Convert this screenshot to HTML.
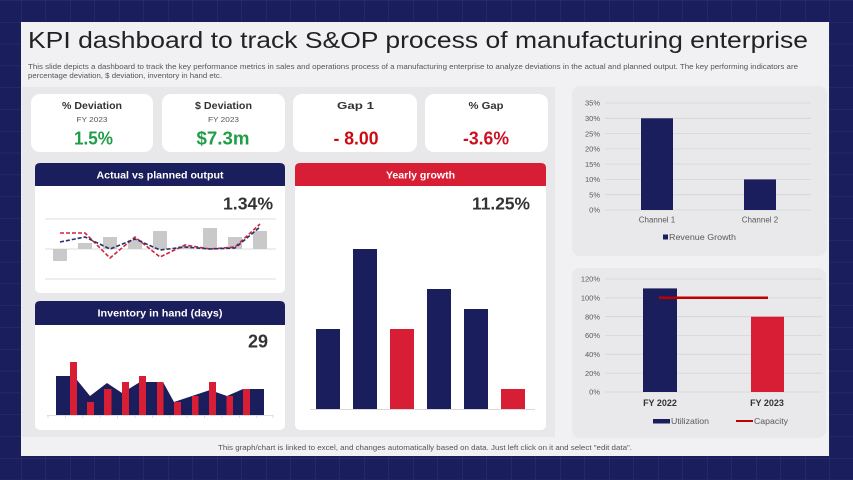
<!DOCTYPE html>
<html><head><meta charset="utf-8">
<style>
html,body{margin:0;padding:0;background:#1b1e5c;}
svg{display:block;font-family:"Liberation Sans",sans-serif;}
</style></head>
<body>
<svg width="853" height="480" viewBox="0 0 853 480" xmlns="http://www.w3.org/2000/svg">
<defs>
<pattern id="grid" x="-3.5" y="0.2" width="24.5" height="21.8" patternUnits="userSpaceOnUse">
<rect width="24.5" height="21.8" fill="#1b1e5c"/>
<path d="M0 0 V21.8 M0 0 H24.5" stroke="#2d3173" stroke-width="1" fill="none"/>
</pattern>
</defs>
<rect width="853" height="480" fill="url(#grid)"/>
<!-- slide -->
<rect x="21" y="22" width="808" height="434" fill="#f1f1f3"/>
<text x="28" y="48" font-size="23" fill="#222" textLength="780" lengthAdjust="spacingAndGlyphs">KPI dashboard to track S&amp;OP process of manufacturing enterprise</text>
<text x="28" y="69" font-size="7.2" fill="#555" textLength="770" lengthAdjust="spacingAndGlyphs">This slide depicts a dashboard to track the key performance metrics in sales and operations process of a manufacturing enterprise to analyze deviations in the actual and planned output. The key performing indicators are</text>
<text x="28" y="78" font-size="7.2" fill="#555" textLength="194" lengthAdjust="spacingAndGlyphs">percentage deviation, $ deviation, inventory in hand etc.</text>

<!-- left big panel -->
<rect x="22" y="87" width="533" height="350" fill="#e8e8ea"/>
<!-- right panels -->
<rect x="572" y="86" width="255" height="170" rx="8" fill="#e9e9eb"/>
<rect x="572" y="268" width="254" height="170" rx="8" fill="#e9e9eb"/>

<!-- KPI cards -->
<rect x="31" y="94" width="122" height="58" rx="9" fill="#fff"/>
<rect x="162" y="94" width="123" height="58" rx="9" fill="#fff"/>
<rect x="293" y="94" width="124" height="58" rx="9" fill="#fff"/>
<rect x="425" y="94" width="123" height="58" rx="9" fill="#fff"/>
<g font-weight="bold" font-size="10.5" fill="#333" text-anchor="middle">
<text x="92" y="109" textLength="60" lengthAdjust="spacingAndGlyphs">% Deviation</text>
<text x="223.5" y="109" textLength="57" lengthAdjust="spacingAndGlyphs">$ Deviation</text>
<text x="355.5" y="109" textLength="37" lengthAdjust="spacingAndGlyphs">Gap 1</text>
<text x="486" y="109" textLength="35" lengthAdjust="spacingAndGlyphs">% Gap</text>
</g>
<g font-size="7.5" fill="#555" text-anchor="middle">
<text x="92" y="122" textLength="31" lengthAdjust="spacingAndGlyphs">FY 2023</text>
<text x="223.5" y="122" textLength="31" lengthAdjust="spacingAndGlyphs">FY 2023</text>
</g>
<g font-weight="bold" font-size="18" text-anchor="middle">
<text x="93.5" y="144.5" fill="#1f9d47" textLength="39" lengthAdjust="spacingAndGlyphs">1.5%</text>
<text x="223" y="144.5" fill="#1f9d47" textLength="53" lengthAdjust="spacingAndGlyphs">$7.3m</text>
<text x="356" y="144.5" fill="#cc0a14" textLength="45" lengthAdjust="spacingAndGlyphs">- 8.00</text>
<text x="486" y="144.5" fill="#cc1020" textLength="46" lengthAdjust="spacingAndGlyphs">-3.6%</text>
</g>

<!-- Actual vs planned panel -->
<rect x="35" y="163" width="250" height="130" rx="5" fill="#fff"/>
<path d="M35 186 V168 Q35 163 40 163 H280 Q285 163 285 168 V186 Z" fill="#1b1e5c"/>
<text x="160" y="178.5" font-size="10.5" font-weight="bold" fill="#fff" text-anchor="middle" textLength="127" lengthAdjust="spacingAndGlyphs">Actual vs planned output</text>
<text x="273" y="209.5" font-size="17.5" font-weight="bold" fill="#333" text-anchor="end" textLength="50" lengthAdjust="spacingAndGlyphs">1.34%</text>
<g stroke="#dcdcdc" stroke-width="1">
<line x1="45" y1="219" x2="276" y2="219"/>
<line x1="45" y1="249" x2="276" y2="249"/>
<line x1="45" y1="279" x2="276" y2="279"/>
</g>
<g fill="#c9c9c9">
<rect x="53" y="249" width="14" height="12"/>
<rect x="78" y="243" width="14" height="6"/>
<rect x="103" y="237" width="14" height="12"/>
<rect x="128" y="240" width="14" height="9"/>
<rect x="153" y="231" width="14" height="18"/>
<rect x="178" y="246" width="14" height="3"/>
<rect x="203" y="228" width="14" height="21"/>
<rect x="228" y="237" width="14" height="12"/>
<rect x="253" y="231" width="14" height="18"/>
</g>
<polyline points="60,233 85,233 110,258 135,237 160,257 185,245 210,249 235,247 260,224" fill="none" stroke="#d0243a" stroke-width="1.6" stroke-dasharray="4,2"/>
<polyline points="60,242 85,237 110,249 135,239 160,250 185,247 210,249 235,248 260,227" fill="none" stroke="#2a2f6e" stroke-width="1.6" stroke-dasharray="4,2"/>

<!-- Inventory panel -->
<rect x="35" y="301" width="250" height="129" rx="5" fill="#fff"/>
<path d="M35 325 V306 Q35 301 40 301 H280 Q285 301 285 306 V325 Z" fill="#1b1e5c"/>
<text x="160" y="316.5" font-size="10.5" font-weight="bold" fill="#fff" text-anchor="middle" textLength="125" lengthAdjust="spacingAndGlyphs">Inventory in hand (days)</text>
<text x="268" y="347.5" font-size="18" font-weight="bold" fill="#333" text-anchor="end">29</text>
<polygon points="56,415 56,376 70,376 77,380 90,396 107,383 122,393 140,382 157,382 163,382 174,402 192,396 210,390 227,396 243,389 264,389 264,415" fill="#1b1e5c"/>
<g fill="#d81e34">
<rect x="70" y="362" width="7" height="53"/>
<rect x="87" y="402" width="7" height="13"/>
<rect x="104" y="389" width="7.5" height="26"/>
<rect x="122" y="382" width="7" height="33"/>
<rect x="139" y="376" width="7" height="39"/>
<rect x="157" y="382" width="6.5" height="33"/>
<rect x="174" y="402" width="7" height="13"/>
<rect x="192" y="396" width="6.5" height="19"/>
<rect x="209" y="382" width="7" height="33"/>
<rect x="226.5" y="396" width="6.5" height="19"/>
<rect x="243" y="389" width="7" height="26"/>
</g>
<g stroke="#d4d4d4" stroke-width="0.8">
<line x1="47" y1="415.5" x2="273" y2="415.5"/>
<path d="M48 415 v3 M65.4 415 v3 M82.8 415 v3 M100.2 415 v3 M117.6 415 v3 M135 415 v3 M152.4 415 v3 M169.8 415 v3 M187.2 415 v3 M204.6 415 v3 M222 415 v3 M239.4 415 v3 M256.8 415 v3 M273 415 v3"/>
</g>

<!-- Yearly growth panel -->
<rect x="295" y="163" width="251" height="267" rx="5" fill="#fff"/>
<path d="M295 186 V168 Q295 163 300 163 H541 Q546 163 546 168 V186 Z" fill="#d81e34"/>
<text x="420.5" y="178.5" font-size="10.5" font-weight="bold" fill="#fff" text-anchor="middle" textLength="69" lengthAdjust="spacingAndGlyphs">Yearly growth</text>
<text x="530" y="209.5" font-size="17.5" font-weight="bold" fill="#333" text-anchor="end" textLength="58" lengthAdjust="spacingAndGlyphs">11.25%</text>
<rect x="316" y="329" width="24" height="80" fill="#1b1e5c"/>
<rect x="353" y="249" width="24" height="160" fill="#1b1e5c"/>
<rect x="390" y="329" width="24" height="80" fill="#d81e34"/>
<rect x="427" y="289" width="24" height="120" fill="#1b1e5c"/>
<rect x="464" y="309" width="24" height="100" fill="#1b1e5c"/>
<rect x="501" y="389" width="24" height="20" fill="#d81e34"/>
<line x1="310" y1="409.5" x2="535" y2="409.5" stroke="#d9d9d9" stroke-width="1"/>

<!-- Top right chart -->
<g stroke="#d6d6d6" stroke-width="0.8">
<line x1="605" y1="103" x2="811" y2="103"/>
<line x1="605" y1="118.3" x2="811" y2="118.3"/>
<line x1="605" y1="133.6" x2="811" y2="133.6"/>
<line x1="605" y1="148.9" x2="811" y2="148.9"/>
<line x1="605" y1="164.1" x2="811" y2="164.1"/>
<line x1="605" y1="179.4" x2="811" y2="179.4"/>
<line x1="605" y1="194.7" x2="811" y2="194.7"/>
<line x1="605" y1="210" x2="811" y2="210"/>
</g>
<g font-size="7.5" fill="#595959" text-anchor="end">
<text x="600" y="105.7">35%</text>
<text x="600" y="121">30%</text>
<text x="600" y="136.3">25%</text>
<text x="600" y="151.6">20%</text>
<text x="600" y="166.8">15%</text>
<text x="600" y="182.1">10%</text>
<text x="600" y="197.4">5%</text>
<text x="600" y="212.7">0%</text>
</g>
<rect x="641" y="118.3" width="32" height="91.7" fill="#1b1e5c"/>
<rect x="744" y="179.4" width="32" height="30.6" fill="#1b1e5c"/>
<g font-size="8" fill="#595959" text-anchor="middle">
<text x="657" y="222.5">Channel 1</text>
<text x="760" y="222.5">Channel 2</text>
</g>
<rect x="663" y="234.5" width="5" height="5" fill="#1b1e5c"/>
<text x="669" y="240" font-size="8" fill="#595959" textLength="67" lengthAdjust="spacingAndGlyphs">Revenue Growth</text>

<!-- Bottom right chart -->
<g stroke="#d6d6d6" stroke-width="0.8">
<line x1="605" y1="279" x2="822" y2="279"/>
<line x1="605" y1="297.8" x2="822" y2="297.8"/>
<line x1="605" y1="316.7" x2="822" y2="316.7"/>
<line x1="605" y1="335.5" x2="822" y2="335.5"/>
<line x1="605" y1="354.3" x2="822" y2="354.3"/>
<line x1="605" y1="373.2" x2="822" y2="373.2"/>
<line x1="605" y1="392" x2="822" y2="392"/>
</g>
<g font-size="7.5" fill="#595959" text-anchor="end">
<text x="600" y="281.7">120%</text>
<text x="600" y="300.5">100%</text>
<text x="600" y="319.4">80%</text>
<text x="600" y="338.2">60%</text>
<text x="600" y="357">40%</text>
<text x="600" y="375.9">20%</text>
<text x="600" y="394.7">0%</text>
</g>
<rect x="643" y="288.4" width="34" height="103.6" fill="#1b1e5c"/>
<rect x="751" y="316.7" width="33" height="75.3" fill="#d81e34"/>
<line x1="659" y1="297.8" x2="768" y2="297.8" stroke="#c00000" stroke-width="2.5"/>
<g font-size="9" font-weight="bold" fill="#333" text-anchor="middle">
<text x="660" y="406">FY 2022</text>
<text x="767" y="406">FY 2023</text>
</g>
<rect x="653" y="419" width="17" height="4.5" fill="#1b1e5c"/>
<text x="671" y="424" font-size="8" fill="#595959" textLength="38" lengthAdjust="spacingAndGlyphs">Utilization</text>
<line x1="736" y1="421" x2="753" y2="421" stroke="#c00000" stroke-width="2"/>
<text x="754" y="424" font-size="8" fill="#595959" textLength="34" lengthAdjust="spacingAndGlyphs">Capacity</text>

<!-- footnote -->
<text x="218" y="450" font-size="7.3" fill="#555" textLength="414" lengthAdjust="spacingAndGlyphs">This graph/chart is linked to excel, and changes automatically based on data. Just left click on it and select "edit data".</text>
</svg>
</body></html>
